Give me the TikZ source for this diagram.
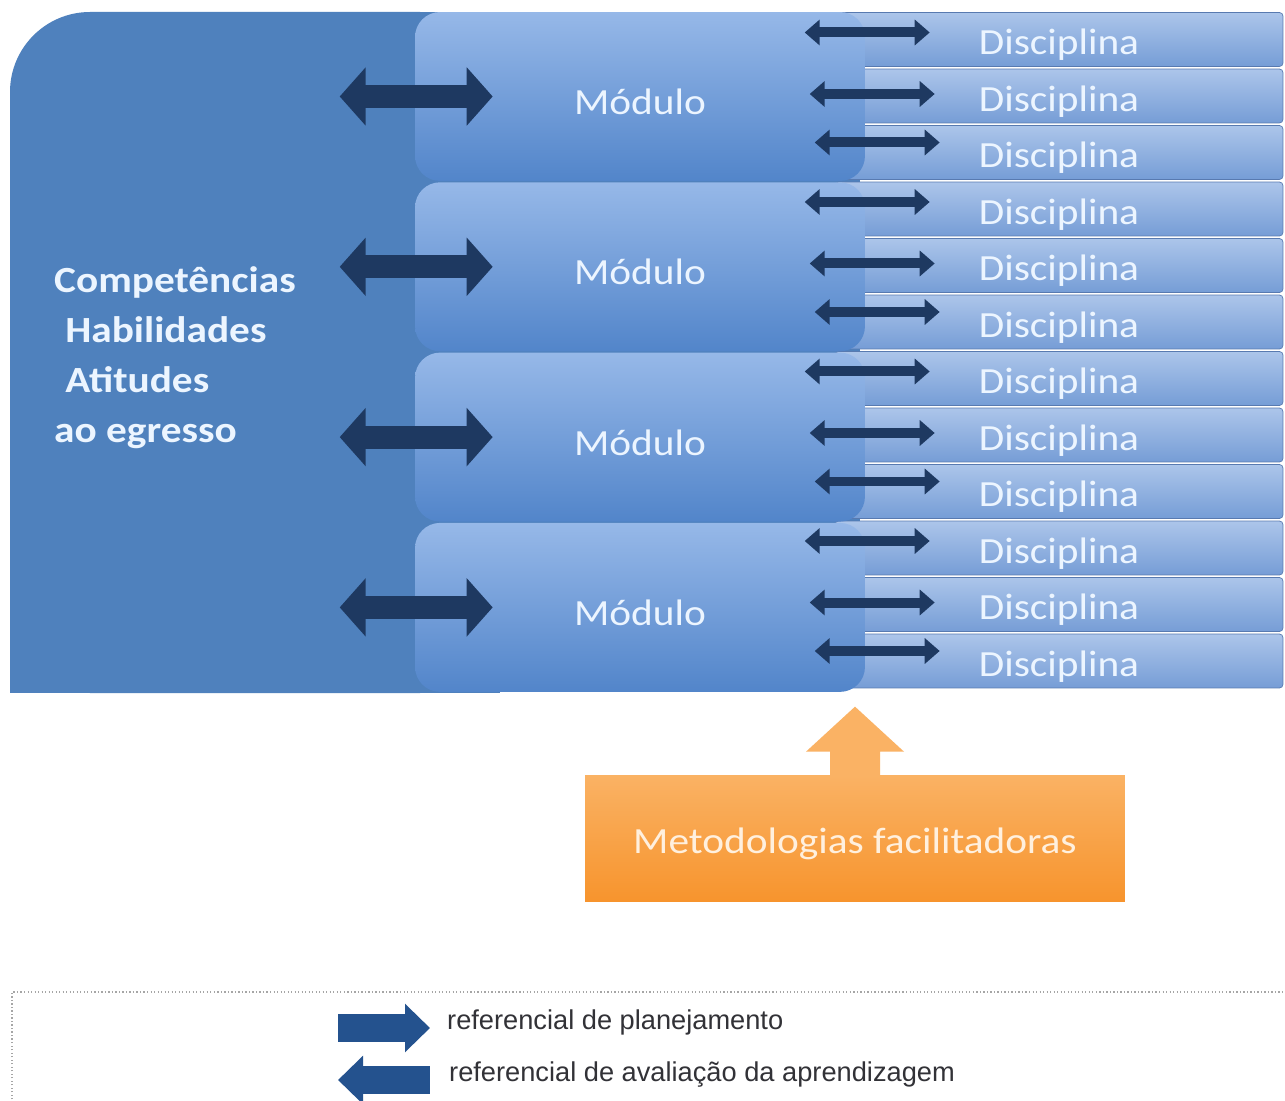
\documentclass[tikz,border=0pt]{standalone}
\usepackage{fontspec}
\setmainfont{Carlito}[FakeStretch=1.12]
\newfontfamily\legendfont{Liberation Sans}
\usetikzlibrary{calc,arrows.meta}

\definecolor{bigblue}{RGB}{79,129,189}
\definecolor{modtop}{RGB}{150,184,232}
\definecolor{modbot}{RGB}{82,133,202}
\definecolor{disctop}{RGB}{172,197,234}
\definecolor{discbot}{RGB}{118,157,214}
\definecolor{discline}{RGB}{88,122,176}
\definecolor{navy}{RGB}{30,57,97}
\definecolor{paper}{RGB}{236,245,255}
\definecolor{orangetop}{RGB}{250,178,100}
\definecolor{orangebot}{RGB}{247,148,45}
\definecolor{orangetext}{RGB}{255,240,222}
\definecolor{legblue}{RGB}{36,82,142}
\definecolor{legtext}{RGB}{50,50,55}

\begin{document}
\begin{tikzpicture}[x=0.02cm,y=-0.02cm,
  modulo/.style={rounded corners=0.5cm,top color=modtop,bottom color=modbot,
    minimum width=9cm,minimum height=3.38cm,text=paper,font=\fontsize{21}{25}\selectfont,
    text height=0.72cm,text depth=0cm},
  disc/.style={draw=discline,rounded corners=2pt,top color=disctop,bottom color=discbot,
    minimum width=8.96cm,minimum height=1.08cm,inner ysep=0pt,text=paper,
    font=\fontsize{21}{25}\selectfont,text height=0.76cm,text depth=0.15cm},
  bigarrow/.style={navy,line width=0.46cm,
    {Triangle[width=1.14cm,length=0.52cm]}-{Triangle[width=1.14cm,length=0.52cm]}},
  smallarrow/.style={navy,line width=0.2cm,
    {Triangle[width=0.5cm,length=0.3cm]}-{Triangle[width=0.5cm,length=0.3cm]}},
  legarrow/.style={legblue,line width=0.56cm},
  metodo/.style={top color=orangetop,bottom color=orangebot,minimum width=10.8cm,
    minimum height=2.54cm,text=orangetext,font=\fontsize{21}{25}\selectfont,
    text height=0.76cm,text depth=0.15cm}]
  \useasboundingbox[fill=white] (0,0) rectangle (1285,1101);

  % big block on the left
  \fill[bigblue,rounded corners=1.6cm] (10,12) rectangle (500,693);
  \fill[bigblue] (10,300) rectangle (500,693);
  \fill[bigblue] (300,12) rectangle (860,660);
  \node[anchor=west,align=left,text=paper,font=\bfseries\fontsize{21}{28.5}\selectfont]
    (comp) at (48,358) {Competências\\\hspace{0.3em}Habilidades\\\hspace{0.3em}Atitudes\\ao egresso};

  % disciplinas
  \foreach \i in {0,...,11}
    \node[disc] (d\i) at (1059,{39.5+\i*56.5}) {Disciplina};

  % modulos
  \foreach \m in {1,...,4}
    \node[modulo] (mod\m) at (640,{96.5+(\m-1)*170.3}) {Módulo};

  \foreach \m in {1,...,4}
    \draw[bigarrow] ([xshift=-1.5cm]mod\m.west) -- ([xshift=1.56cm]mod\m.west);

  \foreach \i in {0,...,11}{
    \pgfmathsetmacro{\k}{int(mod(\i,3))}
    \pgfmathsetmacro{\dy}{{-7,-2,-10}[\k]}
    \draw[smallarrow] ($(d\i.west)+({-30+5*\k},\dy)$) -- ($(d\i.west)+({95+5*\k},\dy)$);
  }

  % metodologias
  \node[metodo] (metod) at (855,838.5) {Metodologias facilitadoras};
  \fill[orangetop] ($(metod.north)+(-25,1)$) -- ++(0,-24) -- ++(-24,0) -- ++(49,-45)
    -- ++(49,45) -- ++(-24,0) -- ++(0,24) -- cycle;

  % legenda
  \draw[gray!70,line width=0.8pt,dash pattern=on 0.7pt off 1.3pt] (12,1110) -- (12,992) -- (1300,992);
  \node[anchor=west,text=legtext,font=\legendfont\fontsize{15.5}{18}\selectfont]
    (leg1) at (441,1022) {referencial de planejamento};
  \node[anchor=west,text=legtext,font=\legendfont\fontsize{15.5}{18}\selectfont]
    (leg2) at (443,1075) {referencial de avaliação da aprendizagem};
  \draw[legarrow,-{Triangle[width=0.94cm,length=0.5cm]}]
    ([xshift=-2.06cm,yshift=-0.12cm]leg1.west) -- ([xshift=-0.22cm,yshift=-0.12cm]leg1.west);
  \draw[legarrow,{Triangle[width=0.94cm,length=0.5cm]}-]
    ([xshift=-2.1cm,yshift=-0.1cm]leg2.west) -- ([xshift=-0.26cm,yshift=-0.1cm]leg2.west);
\end{tikzpicture}
\end{document}
